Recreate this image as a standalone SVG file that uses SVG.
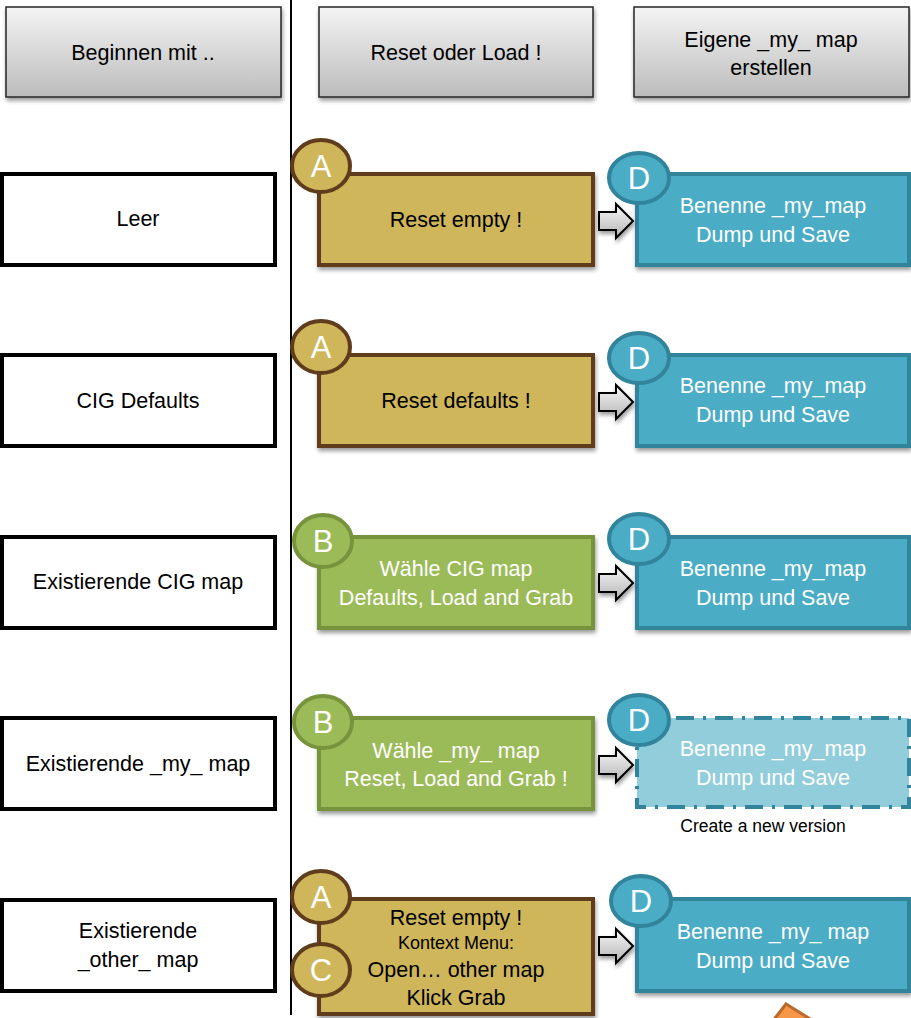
<svg xmlns="http://www.w3.org/2000/svg" width="911" height="1018" viewBox="0 0 911 1018">
<defs>
<linearGradient id="hg" x1="0" y1="0" x2="0" y2="1"><stop offset="0" stop-color="#f4f4f4"/><stop offset="1" stop-color="#bcbcbc"/></linearGradient>
<linearGradient id="ag" x1="0" y1="0" x2="0" y2="1"><stop offset="0" stop-color="#f8f8f8"/><stop offset="1" stop-color="#b4b4b4"/></linearGradient>
<filter id="sh" x="-10%" y="-10%" width="120%" height="130%"><feGaussianBlur in="SourceAlpha" stdDeviation="2"/><feOffset dx="1" dy="3"/><feComponentTransfer><feFuncA type="linear" slope="0.4"/></feComponentTransfer><feMerge><feMergeNode/><feMergeNode in="SourceGraphic"/></feMerge></filter>
<path id="arr" d="M0,-9 H17 V-17 L34,0 L17,17 V9 H0 Z"/>
</defs>
<style>
text{font-family:"Liberation Sans",Arial,sans-serif;text-anchor:middle;font-size:21.5px;}
text.small{font-size:18px;}
text.note{font-size:17.5px;}
.hdr{fill:url(#hg);stroke:#262626;stroke-width:1.5;filter:url(#sh);}
.start{fill:#fff;stroke:#000;stroke-width:4;}
.gold{fill:#cfb65a;stroke:#5e3c1c;stroke-width:4;filter:url(#sh);}
.green{fill:#9bbb59;stroke:#77933c;stroke-width:4;filter:url(#sh);}
.blue{fill:#4bacc6;stroke:#31849b;stroke-width:4;filter:url(#sh);}
.lblue{fill:#92cddc;stroke:#31849b;stroke-width:4;stroke-dasharray:18 9 3 9;}
.cg{fill:#cfb65a;stroke:#5e3c1c;stroke-width:4;}
.cgr{fill:#9bbb59;stroke:#77933c;stroke-width:4;}
.cb{fill:#4bacc6;stroke:#31849b;stroke-width:4;}
text.letter{fill:#fff;font-size:31px;}
.w{fill:#fff;}
.k{fill:#000;}
.arrow{fill:url(#ag);stroke:#000;stroke-width:2;stroke-linejoin:miter;filter:url(#sh);}
</style>
<rect width="911" height="1018" fill="#fff"/>
<line x1="291" y1="0" x2="291" y2="1015" stroke="#000" stroke-width="2"/>

<g id="h1"><rect class="hdr" x="6" y="7" width="275" height="90"/><text x="143" y="60">Beginnen mit ..</text></g>
<g id="h2"><rect class="hdr" x="319" y="7" width="274" height="90"/><text x="456" y="60">Reset oder Load !</text></g>
<g id="h3"><rect class="hdr" x="634" y="7" width="275" height="90"/><text x="771" y="47">Eigene _my_ map</text><text x="771" y="75">erstellen</text></g>

<g id="s1"><rect class="start" x="2" y="174" width="273" height="91"/><text x="138" y="226">Leer</text></g>
<g id="s2"><rect class="start" x="2" y="355" width="273" height="91"/><text x="138" y="408">CIG Defaults</text></g>
<g id="s3"><rect class="start" x="2" y="537" width="273" height="91"/><text x="138" y="589">Existierende CIG map</text></g>
<g id="s4"><rect class="start" x="2" y="718" width="273" height="91"/><text x="138" y="771">Existierende _my_ map</text></g>
<g id="s5"><rect class="start" x="2" y="900" width="273" height="91"/><text x="138" y="938">Existierende</text><text x="138" y="967">_other_ map</text></g>

<g id="m1"><rect class="gold" x="319" y="174" width="274" height="91"/><ellipse class="cg" cx="321" cy="166" rx="29" ry="26"/><text class="letter" x="321" y="177">A</text><text class="k" x="456" y="227">Reset empty !</text></g>
<g id="m2"><rect class="gold" x="319" y="355" width="274" height="91"/><ellipse class="cg" cx="321" cy="347" rx="29" ry="26"/><text class="letter" x="321" y="358">A</text><text class="k" x="456" y="408">Reset defaults !</text></g>
<g id="m3"><rect class="green" x="319" y="537" width="274" height="91"/><ellipse class="cgr" cx="323" cy="541" rx="29" ry="26"/><text class="letter" x="323" y="552">B</text><text class="w" x="456" y="576">Wähle CIG map</text><text class="w" x="456" y="605">Defaults, Load and Grab</text></g>
<g id="m4"><rect class="green" x="319" y="718" width="274" height="91"/><ellipse class="cgr" cx="323" cy="722" rx="29" ry="26"/><text class="letter" x="323" y="733">B</text><text class="w" x="456" y="758">Wähle _my_ map</text><text class="w" x="456" y="786">Reset, Load and Grab !</text></g>
<g id="m5"><rect class="gold" x="319" y="899" width="274" height="115"/><ellipse class="cg" cx="321" cy="897" rx="29" ry="26"/><text class="letter" x="321" y="908">A</text><ellipse class="cg" cx="321" cy="970" rx="29" ry="26"/><text class="letter" x="321" y="981">C</text><text class="k" x="456" y="925">Reset empty !</text><text class="k small" x="456" y="949">Kontext Menu:</text><text class="k" x="456" y="977">Open… other map</text><text class="k" x="456" y="1005">Klick Grab</text></g>

<g id="d1"><rect class="blue" x="637" y="174" width="272" height="91"/><ellipse class="cb" cx="639" cy="178" rx="30" ry="25"/><text class="letter" x="639" y="189">D</text><text class="w" x="773" y="213">Benenne _my_map</text><text class="w" x="773" y="242">Dump und Save</text></g>
<g id="d2"><rect class="blue" x="637" y="355" width="272" height="91"/><ellipse class="cb" cx="639" cy="358" rx="30" ry="25"/><text class="letter" x="639" y="369">D</text><text class="w" x="773" y="393">Benenne _my_map</text><text class="w" x="773" y="422">Dump und Save</text></g>
<g id="d3"><rect class="blue" x="637" y="537" width="272" height="91"/><ellipse class="cb" cx="639" cy="539" rx="30" ry="25"/><text class="letter" x="639" y="550">D</text><text class="w" x="773" y="576">Benenne _my_map</text><text class="w" x="773" y="605">Dump und Save</text></g>
<g id="d4"><rect class="lblue" x="637" y="718" width="272" height="89"/><ellipse class="cb" cx="639" cy="720" rx="30" ry="25"/><text class="letter" x="639" y="731">D</text><text class="w" x="773" y="756">Benenne _my_map</text><text class="w" x="773" y="785">Dump und Save</text><text class="k note" x="763" y="832">Create a new version</text></g>
<g id="d5"><rect class="blue" x="637" y="899" width="272" height="92"/><ellipse class="cb" cx="641" cy="901" rx="30" ry="25"/><text class="letter" x="641" y="912">D</text><text class="w" x="773" y="939">Benenne _my_ map</text><text class="w" x="773" y="968">Dump und Save</text></g>

<g id="connectors">
<use href="#arr" class="arrow" x="599" y="221"/>
<use href="#arr" class="arrow" x="599" y="402"/>
<use href="#arr" class="arrow" x="599" y="583"/>
<use href="#arr" class="arrow" x="599" y="765"/>
<use href="#arr" class="arrow" x="599" y="946"/>
</g>
<polygon points="786,1004 772,1022 815,1022" fill="#f79646" stroke="#b9692c" stroke-width="3"/>
</svg>
